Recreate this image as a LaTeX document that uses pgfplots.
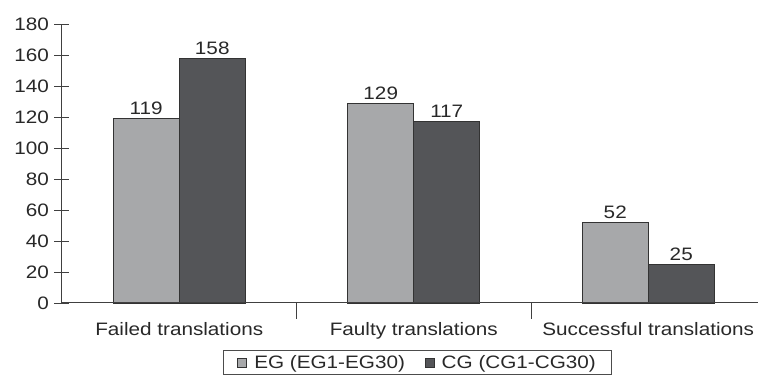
\documentclass[border=0pt]{standalone}
\usepackage{fontspec}
\setmainfont{Liberation Sans}[FakeStretch=1.15]
\usepackage{pgfplots}
\pgfplotsset{compat=1.18}
\definecolor{lightbar}{RGB}{167,168,170}
\definecolor{darkbar}{RGB}{84,85,88}
\definecolor{txt}{RGB}{40,40,40}
\begin{document}
\begin{tikzpicture}
\begin{axis}[
  scale only axis, width=696pt, height=279pt,
  xmin=-0.5, xmax=2.468, ymin=0, ymax=180,
  axis line style={draw=none},
  xtick pos=bottom, ytick pos=left,
  tick align=center,
  ytick={0,20,...,180},
  xtick={0,1,2},
  xticklabels={Failed translations, Faulty translations, Successful translations},
  major x tick style={draw=none},
  minor xtick={0.5,1.5},
  tick style={black!75, line width=0.9pt},
  major tick length=15pt, minor tick length=16pt,
  ybar=0pt, bar width=66pt,
  font=\fontsize{18}{21}\selectfont,
  ticklabel style={font=\fontsize{18}{21}\selectfont, text=txt},
  /pgf/number format/assume math mode=true,
  xticklabel style={yshift=-1pt},
  yticklabel style={xshift=-2pt},
  nodes near coords,
  nodes near coords style={font=\fontsize{18}{21}\selectfont, text=txt},
  clip=false,
  legend columns=2,
  legend style={at={(0.511,-0.168)}, anchor=north, draw=black!70, line width=0.8pt,
    font=\fontsize{18}{21}\selectfont, text=txt, inner xsep=14pt, inner ysep=3pt,
    /tikz/every odd column/.append style={column sep=5pt},
    /tikz/every even column/.append style={column sep=18pt}},
  legend image code/.code={\draw[#1, draw=black!80, line width=0.8pt] (0pt,-4.5pt) rectangle (9pt,4.5pt);},
]
\addplot[fill=lightbar, draw=black!80, line width=0.8pt] coordinates {(0,119) (1,129) (2,52)};
\addplot[fill=darkbar, draw=black!80, line width=0.8pt] coordinates {(0,158) (1,117) (2,25)};
\legend{EG (EG1-EG30), CG (CG1-CG30)}
\draw[black!75, line width=1pt] (rel axis cs:0,0) -- (rel axis cs:1,0);
\draw[black!75, line width=1pt] (rel axis cs:0,0) -- (rel axis cs:0,1);
\end{axis}
\pgfresetboundingbox
\path ([xshift=-62pt, yshift=-79pt]current axis.south west) rectangle ([yshift=24pt]current axis.north east);
\end{tikzpicture}
\end{document}
